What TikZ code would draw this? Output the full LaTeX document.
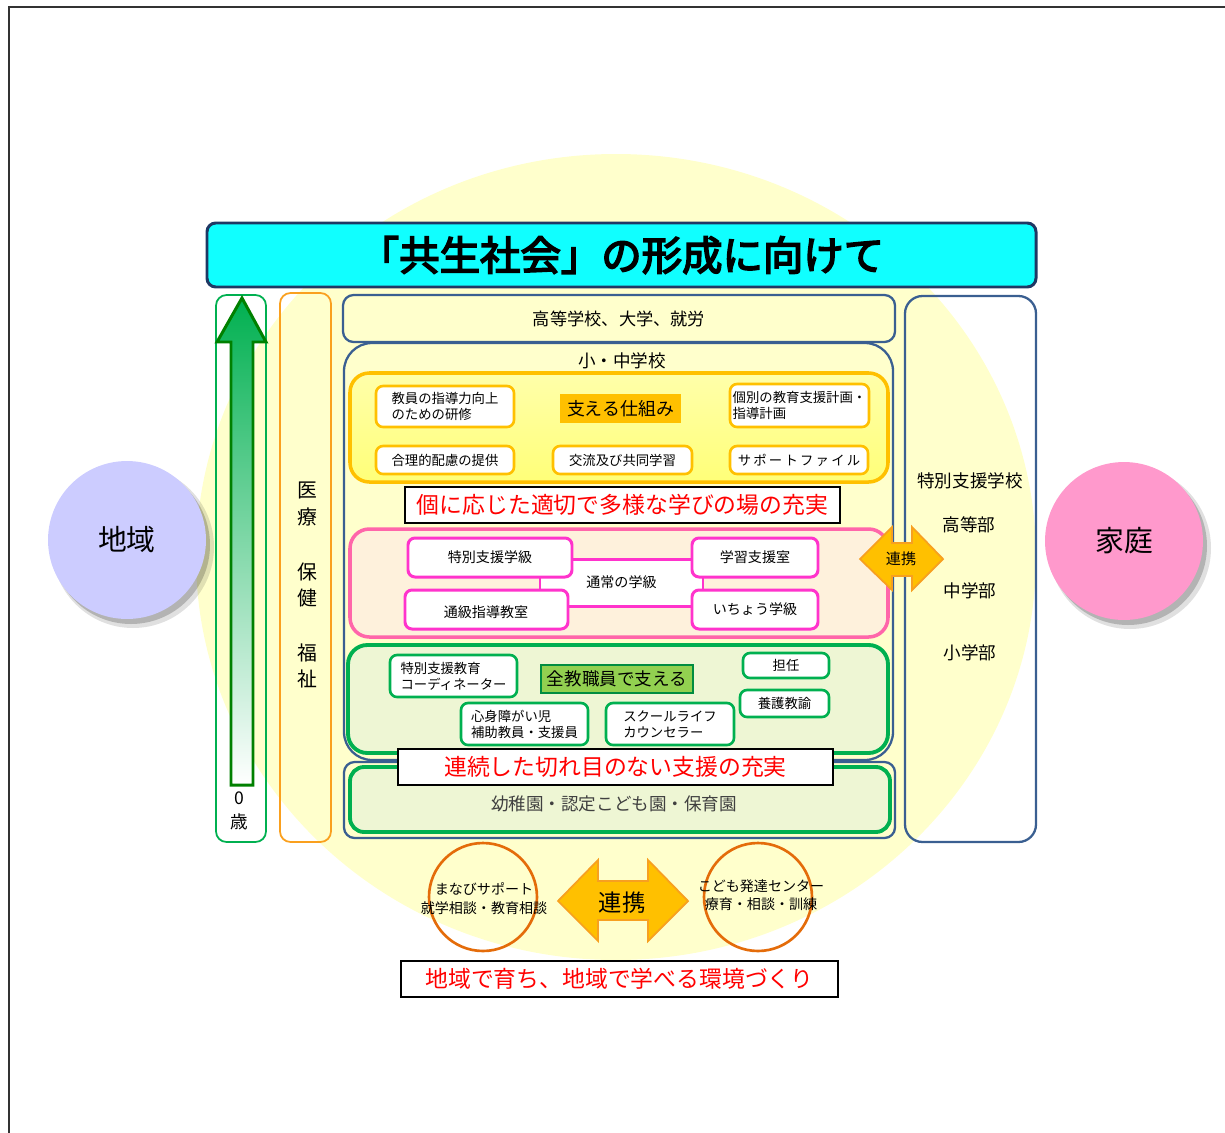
\documentclass[tikz,border=0pt]{standalone}
\usepackage{fontspec}
\setmainfont{Noto Sans CJK JP}
\newfontfamily\jpbold{Noto Sans CJK JP}[FakeBold=4]
\definecolor{cyanbar}{RGB}{16,255,255}
\definecolor{navyb}{RGB}{31,56,100}
\definecolor{blueb}{RGB}{58,95,145}
\definecolor{paleyel}{RGB}{255,255,204}
\definecolor{ytop}{RGB}{255,255,170}
\definecolor{ybot}{RGB}{255,255,120}
\definecolor{gold}{RGB}{255,192,0}
\definecolor{goldline}{RGB}{247,160,32}
\definecolor{pinkb}{RGB}{255,102,170}
\definecolor{magb}{RGB}{255,51,204}
\definecolor{peach}{RGB}{254,241,220}
\definecolor{grnb}{RGB}{0,176,80}
\definecolor{darkgrn}{RGB}{0,128,0}
\definecolor{pgreen}{RGB}{238,246,212}
\definecolor{lgreen}{RGB}{146,208,80}
\definecolor{orgb}{RGB}{228,108,10}
\definecolor{colorange}{RGB}{250,160,30}
\definecolor{lav}{RGB}{204,204,255}
\definecolor{rosa}{RGB}{255,153,204}
\definecolor{redtxt}{RGB}{255,0,0}
\definecolor{txtgray}{RGB}{64,64,64}

\tikzset{
  fz/.style 2 args={font=\fontsize{#1}{#2}\selectfont},
  area/.style={inner sep=0pt, outer sep=0pt},
  panel/.style={area, draw=blueb, line width=1.3pt, rounded corners=6pt},
  wbox/.style={area, fill=white, line width=1.5pt, rounded corners=4pt, align=left, fz={7.6}{9.2}},
  goldbox/.style={wbox, draw=gold},
  magbox/.style={wbox, draw=magb, line width=1.7pt, fz={8}{10}},
  grnbox/.style={wbox, draw=grnb},
  redbanner/.style={area, fill=white, draw=black, line width=0.8pt, text=redtxt, fz={13}{15}},
  ring/.style={circle, draw=orgb, line width=1.5pt, minimum size=2.16cm, area},
  bigdisc/.style={circle, minimum size=3.16cm, area, fz={16.4}{18}},
  vchar/.style={fz={11.3}{13}},
  blockarrow/.style={fill=gold, draw=goldline, line width=1pt, line join=miter},
}
% \boxat[options]{name}{x1}{y1}{x2}{y2}{text}
\newcommand\boxat[7][]{%
  \node[area, #1, minimum width={(#5-#3)*0.02cm}, minimum height={(#6-#4)*0.02cm}]
    (#2) at ({(#3+#5)/2},{(#4+#6)/2}) {#7};}

\begin{document}
\begin{tikzpicture}[x=0.02cm,y=-0.02cm]
\useasboundingbox (0,0) rectangle (1225,1133);
% frame
\draw[line width=1pt, black!80] (9,1133) -- (9,7) -- (1225,7);
% background disc
\fill[paleyel] (616,557) ellipse [x radius=420, y radius=403];

% title
\boxat[fill=cyanbar, draw=navyb, line width=1.7pt, rounded corners=5pt,
      font=\jpbold\fontsize{23}{27}\selectfont]{title}{207}{223}{1036}{287}{「共生社会」の形成に向けて}

% side discs
\fill[black, opacity=0.12] (133,547) circle [radius=81];
\fill[black, opacity=0.2] (131,545) circle [radius=79];
\node[bigdisc, fill=lav] (chiiki) at (127,540) {地域};
\fill[black, opacity=0.12] (1130,548) circle [radius=81];
\fill[black, opacity=0.2] (1128,546) circle [radius=79];
\node[bigdisc, fill=rosa] (katei) at (1124,541) {家庭};

% age column
\boxat[draw=grnb, line width=1pt, rounded corners=6pt]{agecol}{216}{295}{266}{842}{}
\draw[darkgrn, line width=1.7pt, top color=grnb, bottom color=white, line join=miter]
  (231,785) -- (231,342) -- (217,342) -- (242,298) -- (266,342) -- (253,342) -- (253,785) -- cycle;
\node[fz={10}{12}] (zero) at (239,798) {0};
\node[fz={10}{12}] (sai) at (239,822) {歳};

% medical column
\boxat[draw=colorange, line width=1pt, rounded corners=6pt]{medcol}{280}{293}{331}{842}{}
\node[vchar] (i1) at (307,490) {医};
\node[vchar] (i2) at (307,517) {療};
\node[vchar] (h1) at (307,572) {保};
\node[vchar] (h2) at (307,598) {健};
\node[vchar] (f1) at (307,653) {福};
\node[vchar] (f2) at (307,679) {祉};

% high school panel
\boxat[panel, fill=paleyel, fz={9.8}{12}]{high}{343}{295}{895}{342}{高等学校、大学、就労}

% special school column
\boxat[panel, rounded corners=10pt]{tokubetsu}{905}{296}{1036}{842}{}
\node[fz={10}{12}] (sslbl) at (970,481) {特別支援学校};
\node[fz={10}{12}] (koto) at (969,525) {高等部};
\node[fz={10}{12}] (chu) at (970,591) {中学部};
\node[fz={10}{12}] (sho) at (970,653) {小学部};

% elementary / junior high panel
\boxat[panel, fill=paleyel, rounded corners=16pt]{elem}{344}{343}{893}{760}{}
\node[fz={10}{12}] (elemlbl) at (622,361) {小・中学校};

% support mechanisms
\boxat[draw=gold, line width=2pt, rounded corners=11pt, top color=ytop, bottom color=ybot]{support}{350}{373}{888}{482}{}
\boxat[goldbox]{training}{376}{386}{514}{427}{教員の指導力向上\\のための研修}
\boxat[fill=gold, fz={10.2}{12}]{shikumi}{560}{394}{681}{423}{支える仕組み}
\boxat[goldbox]{plan}{730}{384}{869}{427}{個別の教育支援計画・\\指導計画}
\boxat[goldbox]{hairyo}{376}{446}{514}{474}{合理的配慮の提供}
\boxat[goldbox]{koryu}{553}{446}{692}{474}{交流及び共同学習}
\boxat[goldbox]{sfile}{730}{446}{868}{474}{サ\,ポ\,ー\,ト\,フ\,ァ\,イ\,ル}

\boxat[redbanner]{banner1}{405}{487}{840}{523}{個に応じた適切で多様な学びの場の充実}

% classes
\boxat[draw=pinkb, line width=2pt, fill=peach, rounded corners=11pt]{classes}{350}{529}{888}{637}{}
\boxat[fill=white, draw=magb, line width=1.7pt, fz={8}{10}]{regular}{540}{559}{703}{606}{通常の学級}
\boxat[magbox]{tokushi}{408}{538}{572}{577}{特別支援学級}
\boxat[magbox]{gakushu}{692}{538}{818}{577}{学習支援室}
\boxat[magbox]{tsukyu}{405}{590}{568}{629}{}
\node[fz={8}{10}] (tsukyutxt) at (486,612) {通級指導教室};
\boxat[magbox]{icho}{692}{590}{818}{629}{いちょう学級}

% small cooperation arrow
\filldraw[blockarrow] (860,559) -- (892,527) -- (892,543) -- (912,543) -- (912,527) -- (943,559)
  -- (912,590) -- (912,576) -- (892,576) -- (892,590) -- cycle;
\node[fz={8.6}{10}] (renkei1) at (901,559) {連携};

% staff
\boxat[draw=grnb, line width=2.2pt, fill=pgreen, rounded corners=11pt]{staff}{348}{645}{888}{753}{}
\boxat[grnbox]{coord}{390}{655}{517}{697}{特別支援教育\\コーディネーター}
\boxat[fill=lgreen, draw=grnb!80!black, line width=0.6pt, fz={10}{12}]{allstaff}{541}{665}{693}{693}{全教職員で支える}
\boxat[grnbox]{tannin}{743}{653}{829}{678}{担任}
\boxat[grnbox]{yogo}{740}{690}{829}{717}{養護教諭}
\boxat[grnbox]{hojo}{461}{703}{588}{745}{心身障がい児\\補助教員・支援員}
\boxat[grnbox]{scl}{606}{703}{734}{745}{スクールライフ\\カウンセラー}

% kindergarten
\boxat[panel, fill=paleyel]{kinder}{344}{762}{895}{838}{}
\boxat[draw=grnb, line width=2.2pt, fill=pgreen, rounded corners=8pt]{kinderin}{350}{767}{890}{832}{}
\node[text=txtgray, fz={10}{12}] (kindertxt) at (614,804) {幼稚園・認定こども園・保育園};

\boxat[redbanner]{banner2}{398}{749}{833}{785}{連続した切れ目のない支援の充実}

% bottom
\node[ring] (manabi) at (483,897) {};
\node[fz={8}{10.8}, align=center] (manabitxt) at (484,899) {まなびサポート\\就学相談・教育相談};
\node[ring] (kodomo) at (758,897) {};
\node[fz={8}{10.3}, align=center] (kodomotxt) at (761,895) {こども発達センター\\療育・相談・訓練};
\filldraw[blockarrow] (558,901) -- (598,860) -- (598,881) -- (648,881) -- (648,860) -- (688,901)
  -- (648,941) -- (648,920) -- (598,920) -- (598,941) -- cycle;
\node[fz={13.3}{15}] (renkei2) at (622,903) {連携};

\boxat[redbanner]{banner3}{401}{961}{838}{997}{地域で育ち、地域で学べる環境づくり}
\end{tikzpicture}
\end{document}
